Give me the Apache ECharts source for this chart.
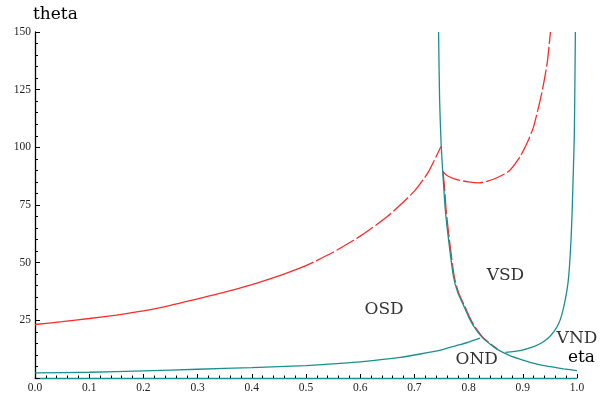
<!DOCTYPE html>
<html><head><meta charset="utf-8">
<script src="https://cdn.jsdelivr.net/npm/echarts@6/dist/echarts.min.js"></script>
<style>html,body{margin:0;padding:0;background:#fff}#c{width:600px;height:394px}</style>
</head><body><div id="c"></div>
<script>
// Red curve, lower branch (solid part)
const redSolidEta   = [0, 0.05, 0.1, 0.15, 0.2, 0.25, 0.3, 0.35, 0.4, 0.45, 0.48];
const redSolidTheta = [23.2, 24.4, 25.8, 27.3, 29.1, 31.5, 34.3, 37.2, 40.5, 44.3, 46.9];
// Red curve, lower branch (dashed part)
const redDashEta   = [0.48, 0.5, 0.55, 0.6, 0.65, 0.7, 0.725, 0.749];
const redDashTheta = [46.9, 48.7, 54.5, 61.5, 70, 81, 89, 100.4];
// Red curve, upper branch
const redUpEta   = [0.7526, 0.76, 0.778, 0.8, 0.818, 0.835, 0.852, 0.874, 0.895, 0.91, 0.92, 0.935, 0.945, 0.951];
const redUpTheta = [89.6, 87.8, 86, 85, 84.6, 85.3, 86.8, 89.6, 96, 103, 109, 123.5, 136.5, 150];
// Red curve, descending branch
const redDownEta   = [0.7526, 0.7555, 0.7585, 0.7645, 0.7735, 0.7815, 0.7925, 0.8015, 0.8105, 0.8265, 0.8415, 0.8535];
const redDownTheta = [89.6, 83, 73, 60, 44, 37, 31.3, 26.5, 22.6, 17.6, 14.6, 12.5];
// Teal descending boundary
const tealDownEta   = [0.7446, 0.7465, 0.7495, 0.754, 0.757, 0.763, 0.772, 0.78, 0.791, 0.8, 0.809, 0.825, 0.84, 0.852, 0.877, 0.9, 0.926, 0.95, 0.975, 1.0];
const tealDownTheta = [150, 120.6, 100.4, 83, 73, 60, 44, 37, 31.3, 26.5, 22.6, 17.6, 14.6, 12.5, 9.6, 7.8, 6.05, 4.9, 4.0, 3.2];
// Teal lower-left boundary
const tealLowEta   = [0, 0.1, 0.2, 0.3, 0.4, 0.5, 0.563, 0.6, 0.674, 0.711, 0.748, 0.78, 0.8, 0.821];
const tealLowTheta = [2.2, 2.5, 3.1, 3.8, 4.5, 5.4, 6.35, 7.0, 8.9, 10.4, 12.1, 14.2, 15.6, 17.3];
// Teal right boundary
const tealRightEta   = [0.868, 0.895, 0.92, 0.935, 0.948, 0.958, 0.966, 0.972, 0.978, 0.983, 0.986, 0.989, 0.991, 0.9926, 0.995, 0.996, 0.997];
const tealRightTheta = [11.1, 11.9, 13.6, 15.3, 17.6, 20.3, 23.5, 27.5, 33.5, 40.5, 48, 60, 72, 84.6, 104.8, 125, 150];
// Region labels [text, eta, theta]
const regionText  = ['OSD', 'VSD', 'OND', 'VND'];
const regionEta   = [0.644, 0.868, 0.815, 1.0];
const regionTheta = [29.8, 44.5, 7.8, 16.9];

const zip = (a, b) => a.map((v, i) => [v, b[i]]);
const RED = '#ff2a2a', TEAL = '#1a8f8f';
const FONT = '"Liberation Serif", "Times New Roman", serif';
const LFONT = '"DejaVu Serif", serif';

const chart = echarts.init(document.getElementById('c'), null, {renderer: 'canvas'});
const line = (data, color, dashed, z) => ({
  type: 'line', data, showSymbol: false, symbol: 'none', clip: true, z: z || 2,
  smooth: 0.2,
  lineStyle: {color, width: 1.3, type: dashed ? [20, 3] : 'solid'}, animation: false
});
const labelSeries = {
  type: 'scatter', symbolSize: 0, clip: false, z: 5, silent: true,
  data: regionText.map((t, i) => ({value: [regionEta[i], regionTheta[i]], name: t})),
  label: {show: true, position: 'inside', formatter: p => p.name,
    fontFamily: LFONT, fontSize: 17, color: '#000'}
};
chart.setOption({
  animation: false,
  grid: {left: 35, right: 23, top: 32, bottom: 15, containLabel: false},
  xAxis: {
    type: 'value', min: 0, max: 1, interval: 0.1,
    axisLine: {show: true, onZero: false, lineStyle: {color: TEAL, width: 1.3}},
    axisTick: {show: true, inside: true, length: 4, lineStyle: {color: '#000'}},
    minorTick: {show: true, splitNumber: 5, length: 2.5, lineStyle: {color: '#000'}},
    splitLine: {show: false},
    axisLabel: {margin: 4, fontFamily: FONT, fontSize: 11.5, color: '#222',
      formatter: v => v.toFixed(1)}
  },
  yAxis: {
    type: 'value', min: 0, max: 150, interval: 25,
    axisLine: {show: true, onZero: false, lineStyle: {color: '#000', width: 1.3}},
    axisTick: {show: true, inside: true, length: 5, lineStyle: {color: '#000'}},
    minorTick: {show: true, splitNumber: 5, length: 3, lineStyle: {color: '#000'}},
    splitLine: {show: false},
    axisLabel: {margin: 4, fontFamily: FONT, fontSize: 11.5, color: '#222',
      formatter: v => v === 0 ? '' : String(v)}
  },
  series: [
    line(zip(redSolidEta, redSolidTheta), RED, false),
    line(zip(redDashEta, redDashTheta), RED, true),
    line(zip(redUpEta, redUpTheta), RED, true),
    line(zip(redDownEta, redDownTheta), RED, true),
    line(zip(tealDownEta, tealDownTheta), TEAL, false, 3),
    line(zip(tealLowEta, tealLowTheta), TEAL, false, 3),
    line(zip(tealRightEta, tealRightTheta), TEAL, false, 3),
    labelSeries
  ],
  graphic: [
    {type: 'text', left: 33, top: 6, style: {text: 'theta', font: '17px "DejaVu Serif"', fill: '#000'}},
    {type: 'text', right: 5, top: 349, style: {text: 'eta', font: '17px "DejaVu Serif"', fill: '#000'}}
  ]
});
</script></body></html>
